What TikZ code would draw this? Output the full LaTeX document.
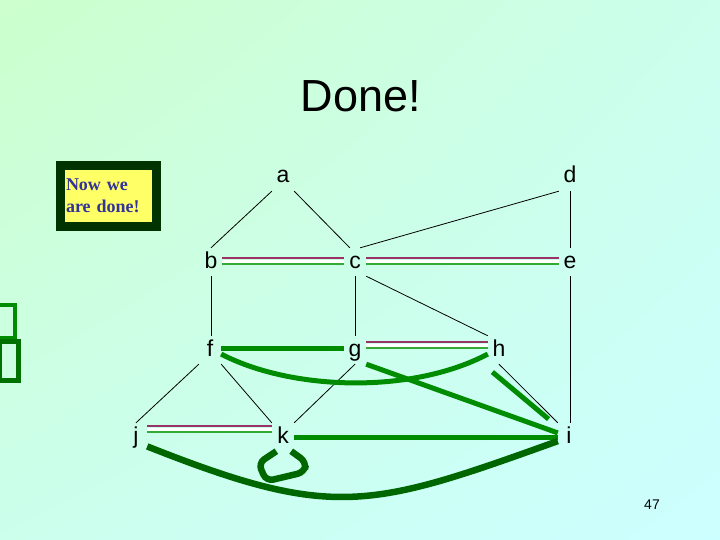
\documentclass[tikz,border=0pt]{standalone}
\usepackage{fontspec}
\setmainfont{Liberation Sans}
\newfontfamily\notefont{Liberation Serif}
\usepackage{tikz}
\usetikzlibrary{calc,shadings}
\definecolor{Mintbg}{HTML}{CCFFCC}
\definecolor{Midbg}{HTML}{CCFFEC}
\definecolor{Icebg}{HTML}{CCFFFF}
\definecolor{Grass}{HTML}{008C00}
\definecolor{Forest}{HTML}{006600}
\definecolor{Moss}{HTML}{007000}
\definecolor{Pine}{HTML}{003300}
\definecolor{Lemon}{HTML}{FFFF66}
\definecolor{Navy}{HTML}{333399}
\definecolor{Plum}{HTML}{993366}
\definecolor{Leaf}{HTML}{33AA33}
\newcommand{\letnode}[3]{\node[vtx] (#1) at (#2,#3) {#1};}
\newcommand{\dbledge}[4]{%
  \draw[white,line width=3pt] ([yshift={(#3+#4)/2}]#1.east) -- ([yshift={(#3+#4)/2}]#2.west);
  \draw[Plum,line width=1.3pt] ([yshift=#3]#1.east) -- ([yshift=#3]#2.west);
  \draw[Leaf,line width=1.3pt] ([yshift=#4]#1.east) -- ([yshift=#4]#2.west);}

\begin{document}
\begin{tikzpicture}[x=1pt,y=-1pt,
    vtx/.style={rectangle,inner sep=0pt,minimum width=22pt,minimum height=28pt,
      text height=16pt,text depth=4pt,font=\fontsize{23}{26}\selectfont},
    thinedge/.style={black,line width=0.8pt},
    greenedge/.style={Grass,line width=5pt},
    darkedge/.style={Forest,line width=6.5pt},
    notebox/.style={draw=Pine,line width=9pt,fill=Lemon,minimum width=96pt,
      minimum height=61.5pt,text width=85pt,align=left,inner sep=0pt,text=Navy,
      font=\notefont\fontsize{18}{22}\selectfont\bfseries}]
  \useasboundingbox (0,0) rectangle (720,540);
  \shade[upper left=Mintbg,upper right=Midbg,lower left=Midbg,lower right=Icebg]
    (0,0) rectangle (720,540);
  \draw[Grass,line width=4pt] (-20,305) rectangle (14.7,338);
  \draw[Moss,line width=5pt] (-0.8,341.5) rectangle (18.2,380.5);

  \node[anchor=base,font=\fontsize{45}{50}\selectfont] (title) at (361,112) {Done!};
  \node[notebox] (note) at (108.5,196) {Now we\\are done!};
  \node[anchor=base,font=\fontsize{14}{16}\selectfont] (pnum) at (652,509) {47};

  \letnode{a}{283}{177}
  \letnode{d}{570}{177}
  \letnode{b}{211}{262}
  \letnode{c}{355}{262}
  \letnode{e}{570}{262}
  \letnode{f}{210}{350}
  \letnode{g}{355}{350}
  \letnode{h}{499}{350}
  \letnode{j}{136}{437}
  \letnode{k}{283}{437}
  \letnode{i}{569}{437}

  \foreach \a/\b in {a.south west/b.north,a.south east/c.110,d.south west/c.70,
      d.south/e.north,b.south/b.south |- f.north,c.south/g.north,c.south east/h.north west,
      e.south/e.south |- i.north,f.south west/j.north,f.south east/k.north west,
      g.south/k.north east,h.south/i.north west}
    \draw[thinedge] (\a) -- (\b);

  \dbledge{b}{c}{4}{-2}
  \dbledge{c}{e}{4}{-2}
  \dbledge{g}{h}{8}{2}
  \dbledge{j}{k}{11}{5}

  \draw[greenedge] ([yshift=2pt]f.east) -- ([yshift=2pt]g.west);
  \draw[greenedge] (k.east) -- (i.west);
  \draw[greenedge] (f.-20) .. controls (290,390) and (410,395) .. (h.200);
  \draw[greenedge] (g.south east) -- (i.160);
  \draw[greenedge,shorten <=6pt,shorten >=12pt] ([yshift=-4pt]h.south west) -- ([yshift=-4pt]i.north west);

  \draw[darkedge] (j.-40) .. controls (333,520) and (369,509) .. (i.-160);
  \draw[darkedge,rounded corners=7pt] (k.-115) -- ++(-18,12) -- ++(8,18) -- ++(38,-9) -- ++(2,-10) -- (k.-60);
\end{tikzpicture}
\end{document}
